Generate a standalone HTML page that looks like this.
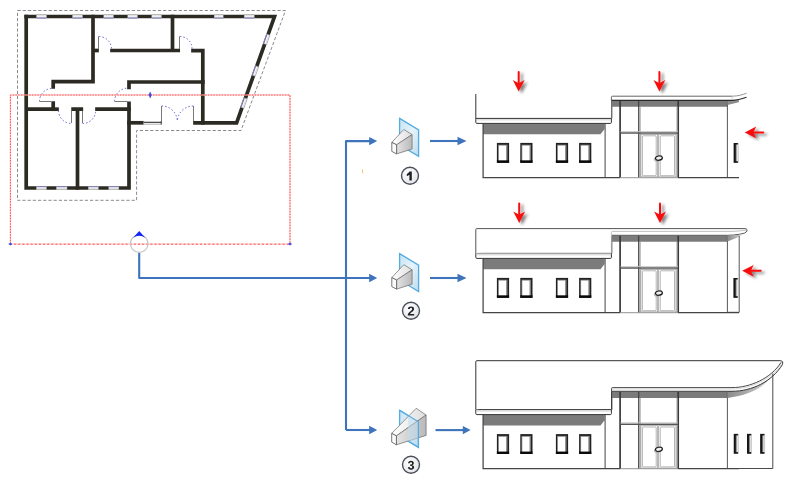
<!DOCTYPE html>
<html><head><meta charset="utf-8">
<style>
html,body{margin:0;padding:0;background:#fff;width:788px;height:479px;overflow:hidden}
svg{display:block}
</style></head>
<body>
<svg width="788" height="479" viewBox="0 0 788 479">
<defs>
<filter id="sh" x="-50%" y="-50%" width="200%" height="200%"><feGaussianBlur in="SourceAlpha" stdDeviation="1.8"/><feOffset dx="2.6" dy="2.2"/><feComponentTransfer><feFuncA type="linear" slope="0.5"/></feComponentTransfer><feMerge><feMergeNode/><feMergeNode in="SourceGraphic"/></feMerge></filter>
<marker id="ah" viewBox="0 0 10 10" refX="9" refY="5" markerWidth="10" markerHeight="10" markerUnits="userSpaceOnUse" orient="auto"><path d="M0,0 L10,5 L0,10 z" fill="#3f74b6"/></marker>
</defs>

<!-- ============ PLAN ============ -->
<!-- gray dashed outline -->
<path d="M17.5,10.5 H285.5 L241,130.5 H136.6 V200.3 H17.5 Z" fill="none" stroke="#8a8a8a" stroke-width="1" stroke-dasharray="3.2,2"/>

<!-- walls -->
<g fill="none" stroke="#2c2b23" stroke-width="3.7" stroke-linecap="square" stroke-linejoin="miter">
<path d="M26.2,16.5 H274.5 L236.6,122.8 H195"/>
<path d="M26.2,16.5 V188 H129 V103.4"/>
<path d="M129,87.3 V82 H202.8 V50.7 H193"/>
<path d="M202.8,82 V122.8"/>
<path d="M129,122.8 H142.5"/>
<path d="M172.5,16.5 V50.5 M178.2,50.5 H112"/>
<path d="M97,50.5 H95"/>
<path d="M93,16.5 V81.7 H53.2 V87"/>
<path d="M53.2,103 V109.2 H28"/>
<path d="M57,109.2 H53"/>
<path d="M73.1,109.2 H81.3 M77.5,109.2 V188"/>
<path d="M97,109.2 H129"/>
</g>

<!-- plan windows -->
<defs><g id="pw"><rect x="0" y="-1.75" width="10" height="3.5" fill="#fdfdfd" stroke="#9a9a9a" stroke-width="0.5"/><path d="M0.3,-0.7 h9.4" stroke="#c8c8c8" stroke-width="0.6"/><path d="M0.3,1.25 h9.4" stroke="#6a6ab8" stroke-width="0.9"/></g></defs>
<use href="#pw" transform="translate(36.5,16.6) scale(1.0,1)"/>
<use href="#pw" transform="translate(72.5,16.6) scale(1.0,1)"/>
<use href="#pw" transform="translate(103.8,16.6) scale(0.96,1)"/>
<use href="#pw" transform="translate(127.8,16.6) scale(0.96,1)"/>
<use href="#pw" transform="translate(151.8,16.6) scale(0.96,1)"/>
<use href="#pw" transform="translate(214.2,16.6) scale(0.9,1)"/>
<use href="#pw" transform="translate(244.2,16.6) scale(1.0,1)"/>
<use href="#pw" transform="translate(36.4,188) scale(1.0,-1)"/>
<use href="#pw" transform="translate(56.4,188) scale(1.06,-1)"/>
<use href="#pw" transform="translate(88.3,188) scale(1.0,-1)"/>
<use href="#pw" transform="translate(108.8,188) scale(1.0,-1)"/>
<use href="#pw" transform="translate(266.6,39.3) rotate(-70.4) translate(-5,0) scale(1,-1)"/>
<use href="#pw" transform="translate(255.3,71) rotate(-70.4) translate(-5,0) scale(1,-1)"/>
<use href="#pw" transform="translate(243.9,103) rotate(-70.4) translate(-5,0) scale(1,-1)"/>
<!-- window in lower wall -->
<rect x="143.5" y="121.2" width="18" height="3.4" fill="#fff"/><path d="M143.5,122.3 H161.3" stroke="#2e2e2e" stroke-width="1.1"/><path d="M143.5,124.2 H161.3" stroke="#a0a0a0" stroke-width="0.8"/><path d="M161.3,121 V124.5" stroke="#444" stroke-width="1.1"/>

<!-- door leaves -->
<g stroke="#6a6a6a" stroke-width="0.9" fill="none">
<path d="M98.5,36.3 V49 M179.5,36.3 V49"/>
<path d="M39.5,101.5 H51.3 M114.6,101.5 H127.5"/>
<path d="M71.5,110.7 V123 M82.5,110.7 V123"/>
<path d="M161.5,106 V121 M193.5,106 V121"/>
</g>
<!-- door arcs -->
<g stroke="#5b5bd0" stroke-width="1" fill="none" stroke-dasharray="1.4,2.1">
<path d="M99,36.5 A12.5,12.5 0 0 1 111.5,49"/>
<path d="M180,36.5 A12,12 0 0 1 192,49"/>
<path d="M39.5,101.2 A12.8,12.8 0 0 1 52.3,88.4"/>
<path d="M114.6,101.2 A13,13 0 0 1 127.6,88.2"/>
<path d="M58.5,110.7 A13,13 0 0 0 71.5,123.5"/>
<path d="M82.7,123.5 A13,13 0 0 0 95.7,110.7"/>
<path d="M161.8,106 A15.5,15.5 0 0 1 177.3,121.5"/>
<path d="M193.2,106 A15.9,15.9 0 0 0 177.3,121.5"/>
</g>

<!-- red dashed section box -->
<path d="M10.4,95 H290 V244 H10.4 Z" fill="none" stroke="#ffbdbd" stroke-width="1"/>
<path d="M10.4,244 V95 H290 V244" fill="none" stroke="#ff4c4c" stroke-width="1" stroke-dasharray="1.5,1.25"/>
<path d="M10.4,244.2 H290" fill="none" stroke="#ff4c4c" stroke-width="1" stroke-dasharray="2,2.13" stroke-dashoffset="0.37"/>
<path d="M8.4,244 L10.4,242.6 L12.4,244 L10.4,245.4 Z" fill="#3b50ee"/>
<path d="M288,244 L290,242.6 L292,244 L290,245.4 Z" fill="#3b50ee"/>
<path d="M150.2,91.6 L151.8,95 L150.2,98.5 L148.6,95 Z" fill="#3b4ee0"/>

<!-- section marker -->
<circle cx="139.2" cy="243.6" r="8.8" fill="none" stroke="#c4c4c4" stroke-width="1.2"/>
<path d="M139.2,231 L145.3,237.8 Q139.2,233.6 133.1,237.8 Z" fill="#1428f5"/>

<!-- ============ CONNECTORS ============ -->
<g stroke="#3d74bb" stroke-width="2.1" fill="none" stroke-linejoin="round">
<path d="M139.2,253 V278 H370"/>
<path d="M346,430 V141.1 H371"/>
<path d="M346,430 H370"/>
<path d="M430,141 H459"/>
<path d="M430,278 H459"/>
<path d="M435.5,430.1 H464"/>
</g>
<g fill="#3d74bb">
<path d="M369.2,136.9 L377.2,141.1 L369.2,145.3 Z"/>
<path d="M369.2,273.8 L377.2,278 L369.2,282.2 Z"/>
<path d="M369.2,425.8 L377.2,430 L369.2,434.2 Z"/>
<path d="M457.5,136.8 L466.5,141 L457.5,145.2 Z"/>
<path d="M457.5,273.8 L466.5,278 L457.5,282.2 Z"/>
<path d="M462.8,425.9 L470.6,430.1 L462.8,434.3 Z"/>
</g>

<!-- ============ ICONS ============ -->
<defs>
<linearGradient id="pg" x1="0" y1="0" x2="1" y2="1"><stop offset="0" stop-color="#c6e3f4"/><stop offset="0.5" stop-color="#e6f3fa"/><stop offset="1" stop-color="#bcdcef"/></linearGradient>
<linearGradient id="tg" x1="0" y1="0" x2="1" y2="0"><stop offset="0" stop-color="#ffffff"/><stop offset="1" stop-color="#dedede"/></linearGradient>
<linearGradient id="sg" x1="0" y1="0" x2="1" y2="0"><stop offset="0" stop-color="#e4e4e4"/><stop offset="1" stop-color="#b9b9b9"/></linearGradient>
</defs>
<g id="ic1">
<path d="M399.6,118.4 L418.6,129.9 V156.3 L399.6,144.8 Z" fill="url(#pg)" stroke="#56acdf" stroke-width="1.3"/>
<path d="M391.8,142.4 L403.8,129.5 L412.1,134.6 L396.6,144.8 Z" fill="url(#tg)" stroke="#6a6a6a" stroke-width="0.7"/>
<path d="M396.6,144.8 L412.1,134.6 V149 L396.6,153.9 Z" fill="url(#sg)" stroke="#6a6a6a" stroke-width="0.7"/>
<path d="M391.8,142.4 L396.6,144.8 V153.9 L391.8,151.4 Z" fill="#fbfbfb" stroke="#555" stroke-width="0.8"/>
</g>
<use href="#ic1" transform="translate(0,135.2)"/>
<g>
<path d="M399.6,410.3 L418.4,421.8 V447.4 L399.6,435.9 Z" fill="url(#pg)" stroke="#56acdf" stroke-width="1.3"/>
<path d="M391.7,433.3 L416.2,408.3 L426.1,415 L396.4,435.9 Z" fill="url(#tg)" stroke="#6a6a6a" stroke-width="0.7"/>
<path d="M396.4,435.9 L426.1,415 V435.4 L396.4,444.8 Z" fill="url(#sg)" stroke="#6a6a6a" stroke-width="0.7"/>
<path d="M391.7,433.3 L396.4,435.9 V444.8 L391.7,442.1 Z" fill="#fbfbfb" stroke="#555" stroke-width="0.8"/>
<path d="M408,415.4 L418.4,421.8 V447.4 L408,441 Z" fill="#bfe0f3" fill-opacity="0.5"/>
<path d="M399.6,410.3 L418.4,421.8 V447.4 L408,441" fill="none" stroke="#56acdf" stroke-width="1.3"/>
</g>

<!-- circled numbers -->
<defs><radialGradient id="cg" cx="0.4" cy="0.35" r="0.7"><stop offset="0" stop-color="#ffffff"/><stop offset="1" stop-color="#dfe3e8"/></radialGradient></defs>
<g style="font-family:'Liberation Sans',sans-serif;font-weight:bold;font-size:13px" text-anchor="middle" fill="#1e1e1e" stroke="#1e1e1e" stroke-width="0.15">
<circle cx="410" cy="175.8" r="8.5" fill="url(#cg)" stroke="#4a4e56" stroke-width="1.4"/>
<path d="M409.4,171.5 H411.8 V180.6 H409.4 V174.8 Q408.4,175.7 406.8,176.2 V174.1 Q408.5,173.3 409.4,171.5 Z" stroke="none"/>
<circle cx="411" cy="310.8" r="8.5" fill="url(#cg)" stroke="#4a4e56" stroke-width="1.4"/>
<path stroke="none" transform="translate(407.37,315.60) scale(0.00643,-0.00643)" d="M71 0V195Q126 316 227.5 431.0Q329 546 483 671Q631 791 690.5 869.0Q750 947 750 1022Q750 1206 565 1206Q475 1206 427.5 1157.5Q380 1109 366 1012L83 1028Q107 1224 229.5 1327.0Q352 1430 563 1430Q791 1430 913.0 1326.0Q1035 1222 1035 1034Q1035 935 996.0 855.0Q957 775 896.0 707.5Q835 640 760.5 581.0Q686 522 616.0 466.0Q546 410 488.5 353.0Q431 296 403 231H1057V0Z"/>
<circle cx="411" cy="464.8" r="8.5" fill="url(#cg)" stroke="#4a4e56" stroke-width="1.4"/>
<path stroke="none" transform="translate(407.57,469.53) scale(0.00609,-0.00609)" d="M1065 391Q1065 193 935.0 85.0Q805 -23 565 -23Q338 -23 204.0 81.5Q70 186 47 383L333 408Q360 205 564 205Q665 205 721.0 255.0Q777 305 777 408Q777 502 709.0 552.0Q641 602 507 602H409V829H501Q622 829 683.0 878.5Q744 928 744 1020Q744 1107 695.5 1156.5Q647 1206 554 1206Q467 1206 413.5 1158.0Q360 1110 352 1022L71 1042Q93 1224 222.0 1327.0Q351 1430 559 1430Q780 1430 904.5 1330.5Q1029 1231 1029 1055Q1029 923 951.5 838.0Q874 753 728 725V721Q890 702 977.5 614.5Q1065 527 1065 391Z"/>
</g>
<rect x="362" y="169.4" width="1" height="3.8" fill="#f2c46a"/>

<!-- ============ ELEVATIONS ============ -->
<defs>
<g id="win"><rect x="0" y="0" width="12.2" height="19.9" fill="#222"/><rect x="0" y="17.3" width="12.2" height="2.6" fill="#0a0a0a"/><rect x="1.2" y="1.8" width="9.4" height="15.6" fill="#8a8a8a"/><rect x="2" y="2.7" width="7.2" height="14.6" fill="#fff"/></g>
<linearGradient id="swg" x1="0" y1="0" x2="1" y2="0"><stop offset="0" stop-color="#555"/><stop offset="0.6" stop-color="#ddd"/><stop offset="1" stop-color="#f4f4f4"/></linearGradient><g id="swin"><rect x="0" y="0" width="4.9" height="19.8" fill="#b0b0b0"/><rect x="0" y="0" width="4.1" height="19.8" fill="#141414"/><rect x="1.9" y="1.5" width="2.6" height="16.7" fill="url(#swg)"/></g>
<g id="body">
<!-- lower wing -->
<path d="M483.1,123.4 H604.6 V129 L600.5,134.2 H483.1 Z" fill="#7b7b7b"/>
<path d="M483.1,123.4 V177.5 H620" fill="none" stroke="#444" stroke-width="1.25"/><path d="M620,177.5 H678" stroke="#a8a8a8" stroke-width="1.25"/><path d="M678,177.5 H739" stroke="#444" stroke-width="1.25"/>
<path d="M605.1,123.4 V177.3" fill="none" stroke="#444" stroke-width="1"/>
<use href="#win" x="496.9" y="142.9"/>
<use href="#win" x="520.3" y="142.9"/>
<use href="#win" x="555.9" y="142.9"/>
<use href="#win" x="579.1" y="142.9"/>
<!-- lower slab -->
<path d="M475.8,118.4 V122.4 Q475.8,123.4 476.8,123.4 H610.4 Q611.4,123.4 611.4,122.4 V118.4 Z" fill="#fff" stroke="#333" stroke-width="1"/>
<path d="M476.5,119.8 H611" stroke="#c4c4c4" stroke-width="0.8"/>
<path d="M611.8,100.6 V118.4" stroke="#333" stroke-width="1"/>
<!-- tall part gray band -->
<path d="M612,100.6 H727.4 V106.8 H612 Z" fill="#7b7b7b"/>
<!-- frames -->
<path d="M620.1,100.6 V177.3" stroke="#3a3a3a" stroke-width="1.7"/>
<path d="M638.7,100.6 V177.3" stroke="#3a3a3a" stroke-width="1.1"/>
<path d="M640,106.8 V177.3" stroke="#9a9a9a" stroke-width="1.2"/>
<path d="M678.2,100.6 V177.3" stroke="#3a3a3a" stroke-width="1.7"/>
<path d="M676.8,106.8 V177.3" stroke="#aaa" stroke-width="0.8"/>
<path d="M620.5,133 H678" stroke="#555" stroke-width="1.5"/>
<path d="M620.5,131.6 H678" stroke="#c4c4c4" stroke-width="0.9"/>
<!-- doors -->
<g fill="none" stroke="#959595" stroke-width="0.7">
<rect x="640.9" y="134.5" width="16.8" height="42.4"/>
<rect x="658.7" y="134.5" width="17.3" height="42.4"/>
<rect x="642.4" y="135.8" width="13.8" height="39.9" rx="0.8"/>
<rect x="660.2" y="135.8" width="14.3" height="39.9" rx="0.8"/>
</g>
<ellipse cx="657.6" cy="159.2" rx="3.4" ry="2" fill="none" stroke="#aaa" stroke-width="0.9" transform="rotate(-10 657.6 159.2)"/>
<ellipse cx="658.9" cy="158.1" rx="3.5" ry="2.1" fill="#f0f0f0" stroke="#1a1a1a" stroke-width="1.2" transform="rotate(-10 658.9 158.1)"/>
<!-- right wall -->
<path d="M727.4,100.6 V177.3" stroke="#444" stroke-width="0.9"/>
</g>
<g id="redv"><path d="M0,0.5 V13" stroke="#f81010" stroke-width="2" stroke-linecap="round"/><path d="M-5.9,8.6 L0,20 L5.9,8.6 L0,11.8 Z" fill="#f81010"/></g>
<g id="redh"><path d="M-0.8,0 H-12" stroke="#f81010" stroke-width="2" stroke-linecap="round"/><path d="M-7.8,-5.9 L-19.3,0 L-7.8,5.9 L-10.6,0 Z" fill="#f81010"/></g>
</defs>

<!-- ELEVATION 1 -->
<use href="#body"/>
<path d="M475.8,94 V118.4" stroke="#333" stroke-width="1"/>
<!-- upper slab -->
<path d="M727.4,100.6 H732.2 C735,100.5 737,100.1 738.9,99.5 V102.2 L727.4,104.9 Z" fill="#8e8e8e"/>
<path d="M611.4,100.4 V97.2 Q611.4,96.2 612.4,96.2 H732.2 C738,96 742,95 746.3,93.4 L746.3,97.5 C742,99 738,100.4 732.2,100.4 Z" fill="#fff"/>
<path d="M611.4,100.4 V97.2 Q611.4,96.2 612.4,96.2 H732.2" fill="none" stroke="#555" stroke-width="0.9"/>
<path d="M732.2,96.2 C738,96 742,95 746.5,93.2" fill="none" stroke="#8a8a8a" stroke-width="0.9"/>
<path d="M611.4,100.4 H732.2 C738,100.4 742,99 746.5,97.3" fill="none" stroke="#2a2a2a" stroke-width="1.1"/>
<path d="M732.2,96.6 V99.8" stroke="#c0c0c0" stroke-width="0.6"/>
<use href="#swin" x="733.7" y="143"/>

<!-- ELEVATION 2 -->
<use href="#body" y="135"/>
<path d="M475.8,253.2 V229.6 Q475.8,228.6 476.8,228.6 H745 Q747.6,228.6 747,231.2 Q746,233.3 740,234.2 Q733,235.3 727.4,235.3 H612" fill="#fff" stroke="#555" stroke-width="1"/>
<path d="M476.3,253.4 H611" stroke="#fff" stroke-width="1.3"/><path d="M476.3,253.4 H611" stroke="#8c8c8c" stroke-width="0.9"/>
<path d="M611.4,253.2 V232.4 Q611.4,231.4 612.4,231.4 H732 Q741,231 746.5,230" fill="none" stroke="#b0b0b0" stroke-width="0.8"/>
<path d="M727.4,235.6 H732 Q740,235 744,233.5 Q737,238.5 727.4,241.6 Z" fill="url(#sof)"/>
<path d="M739.2,236 V312.3 H727" stroke="#444" stroke-width="0.9" fill="none"/>
<use href="#swin" x="733.5" y="278"/>

<!-- ELEVATION 3 -->
<use href="#body" y="291.2"/>
<linearGradient id="sof" x1="0" y1="0" x2="1" y2="0"><stop offset="0" stop-color="#8a8a8a"/><stop offset="1" stop-color="#d8d8d8"/></linearGradient><path d="M727.4,391.3 H732 C752,391.3 766,383 773,373.5 C766,387 750,395 727.4,397.9 Z" fill="url(#sof)"/>
<path d="M475.8,409.6 V361.7 Q475.8,360.7 476.8,360.7 H780.6 Q783.6,361 782.4,364.6 C772,381.5 752,391.3 732,391.3 H612" fill="#fff" stroke="#333" stroke-width="1"/>
<path d="M611.6,409.6 V388.6 Q611.6,387.6 612.6,387.6 H732 C750,387.6 771,378.5 781.2,362.2" fill="none" stroke="#333" stroke-width="0.9"/>
<path d="M612.5,389 H732 C750,389 772,379.5 781.8,363.6" fill="none" stroke="#c4c4c4" stroke-width="0.7"/>
<path d="M772.8,373.5 V468.5 H738" stroke="#4a4a4a" stroke-width="1" fill="none"/>
<use href="#swin" x="733.8" y="433.9"/>
<use href="#swin" x="747" y="433.9"/>
<use href="#swin" x="760.2" y="433.9"/>

<!-- arrows -->
<g filter="url(#sh)">
<use href="#redv" x="518.7" y="71.4"/><use href="#redv" x="659.4" y="71.4"/><use href="#redh" x="764" y="132.4"/>
<use href="#redv" x="519.2" y="203"/><use href="#redv" x="660" y="203"/><use href="#redh" x="761.5" y="270.8"/>
</g>

</svg>
</body></html>
